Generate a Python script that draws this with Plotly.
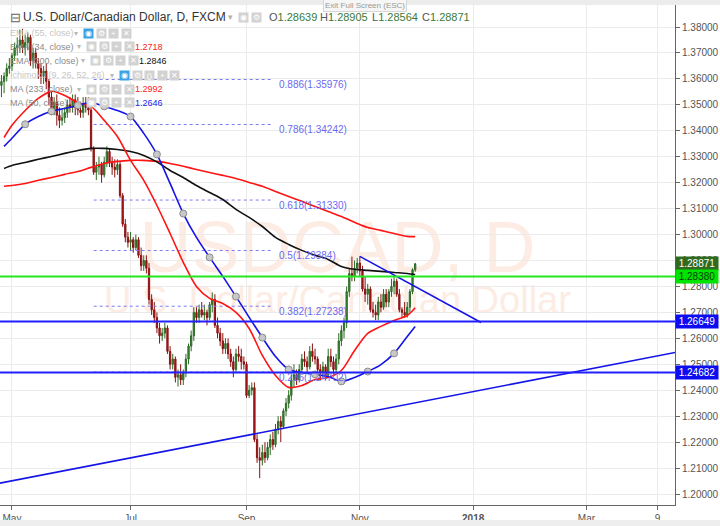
import pandas as pd
import plotly.graph_objects as go

FONT = "Liberation Sans, Arial, sans-serif"

# ---- daily USD/CAD bars (FXCM), 25 Apr - 30 Nov 2017, one row per week ----
bar_dates = pd.bdate_range("2017-04-25", "2017-11-30")

open_ = [
    1.3575, 1.3590, 1.3610, 1.3640,
    1.3650, 1.3690, 1.3720, 1.3730, 1.3750,
    1.3720, 1.3740, 1.3760, 1.3670, 1.3700,
    1.3660, 1.3640, 1.3610, 1.3630, 1.3590,
    1.3530, 1.3480, 1.3510, 1.3460, 1.3440,
    1.3450, 1.3470, 1.3500, 1.3490, 1.3520,
    1.3490, 1.3480, 1.3470, 1.3500, 1.3490,
    1.3480, 1.3330, 1.3240, 1.3260, 1.3270,
    1.3230, 1.3280, 1.3320, 1.3280, 1.3260,
    1.3250, 1.3270, 1.3150, 1.3040, 1.2990,
    1.2970, 1.2980, 1.2950, 1.2980, 1.2920,
    1.2880, 1.2900, 1.2870, 1.2750, 1.2710,
    1.2680, 1.2640, 1.2610, 1.2620, 1.2640,
    1.2550, 1.2500, 1.2520, 1.2450, 1.2460,
    1.2440, 1.2470, 1.2520, 1.2570, 1.2610,
    1.2700, 1.2680, 1.2710, 1.2690, 1.2700,
    1.2680, 1.2730, 1.2750, 1.2650, 1.2620,
    1.2590, 1.2560, 1.2580, 1.2540, 1.2510,
    1.2480, 1.2540, 1.2530, 1.2510, 1.2500,
    1.2380, 1.2400, 1.2410, 1.2210, 1.2140,
    1.2130, 1.2160, 1.2140, 1.2180, 1.2210,
    1.2190, 1.2250, 1.2280, 1.2260, 1.2320,
    1.2350, 1.2380, 1.2440, 1.2460, 1.2440,
    1.2480, 1.2520, 1.2510, 1.2490, 1.2550,
    1.2530, 1.2520, 1.2480, 1.2470, 1.2490,
    1.2460, 1.2530, 1.2510, 1.2480, 1.2520,
    1.2590, 1.2630, 1.2660, 1.2780, 1.2850,
    1.2840, 1.2870, 1.2890, 1.2860, 1.2790,
    1.2770, 1.2790, 1.2710, 1.2700, 1.2690,
    1.2740, 1.2720, 1.2770, 1.2740, 1.2780,
    1.2800, 1.2820, 1.2770, 1.2710, 1.2700,
    1.2690, 1.2720, 1.2780, 1.28639,
]
high = [
    1.3615, 1.3625, 1.3660, 1.3680,
    1.3700, 1.3740, 1.3760, 1.3790, 1.3793,
    1.3770, 1.3780, 1.3770, 1.3720, 1.3720,
    1.3680, 1.3660, 1.3650, 1.3660, 1.3600,
    1.3550, 1.3530, 1.3540, 1.3490, 1.3480,
    1.3490, 1.3520, 1.3530, 1.3540, 1.3540,
    1.3530, 1.3510, 1.3530, 1.3530, 1.3530,
    1.3510, 1.3340, 1.3280, 1.3300, 1.3280,
    1.3300, 1.3340, 1.3330, 1.3300, 1.3290,
    1.3290, 1.3280, 1.3160, 1.3060, 1.3010,
    1.3010, 1.2990, 1.3000, 1.2990, 1.2950,
    1.2920, 1.2920, 1.2890, 1.2770, 1.2740,
    1.2700, 1.2660, 1.2640, 1.2660, 1.2650,
    1.2570, 1.2540, 1.2530, 1.2480, 1.2500,
    1.2480, 1.2540, 1.2580, 1.2630, 1.2720,
    1.2720, 1.2730, 1.2740, 1.2730, 1.2710,
    1.2740, 1.2777, 1.2770, 1.2680, 1.2640,
    1.2620, 1.2600, 1.2600, 1.2560, 1.2530,
    1.2560, 1.2570, 1.2560, 1.2530, 1.2510,
    1.2420, 1.2430, 1.2430, 1.2230, 1.2180,
    1.2190, 1.2200, 1.2200, 1.2230, 1.2240,
    1.2270, 1.2300, 1.2300, 1.2330, 1.2370,
    1.2400, 1.2460, 1.2500, 1.2480, 1.2500,
    1.2540, 1.2550, 1.2530, 1.2570, 1.2580,
    1.2560, 1.2530, 1.2500, 1.2510, 1.2500,
    1.2560, 1.2560, 1.2530, 1.2540, 1.2620,
    1.2650, 1.2680, 1.2800, 1.2870, 1.2915,
    1.2900, 1.2910, 1.2916, 1.2880, 1.2840,
    1.2810, 1.2800, 1.2740, 1.2730, 1.2760,
    1.2770, 1.2790, 1.2790, 1.2790, 1.2830,
    1.2840, 1.2830, 1.2790, 1.2720, 1.2740,
    1.2740, 1.2790, 1.2870, 1.28905,
]
low = [
    1.3530, 1.3545, 1.3590, 1.3620,
    1.3630, 1.3670, 1.3690, 1.3700, 1.3700,
    1.3690, 1.3710, 1.3650, 1.3640, 1.3640,
    1.3600, 1.3580, 1.3580, 1.3560, 1.3500,
    1.3460, 1.3460, 1.3420, 1.3410, 1.3420,
    1.3430, 1.3450, 1.3470, 1.3470, 1.3460,
    1.3460, 1.3450, 1.3450, 1.3470, 1.3460,
    1.3320, 1.3230, 1.3210, 1.3230, 1.3200,
    1.3220, 1.3260, 1.3260, 1.3230, 1.3220,
    1.3230, 1.3140, 1.3030, 1.2970, 1.2950,
    1.2940, 1.2930, 1.2940, 1.2910, 1.2860,
    1.2860, 1.2850, 1.2730, 1.2690, 1.2660,
    1.2620, 1.2580, 1.2590, 1.2600, 1.2540,
    1.2480, 1.2480, 1.2430, 1.2414, 1.2420,
    1.2420, 1.2450, 1.2500, 1.2550, 1.2590,
    1.2660, 1.2660, 1.2680, 1.2670, 1.2650,
    1.2670, 1.2700, 1.2640, 1.2600, 1.2570,
    1.2540, 1.2540, 1.2520, 1.2490, 1.2450,
    1.2470, 1.2510, 1.2480, 1.2480, 1.2370,
    1.2370, 1.2380, 1.2200, 1.2120, 1.2061,
    1.2110, 1.2120, 1.2130, 1.2150, 1.2170,
    1.2180, 1.2230, 1.2200, 1.2250, 1.2300,
    1.2330, 1.2360, 1.2410, 1.2420, 1.2430,
    1.2460, 1.2490, 1.2470, 1.2480, 1.2510,
    1.2500, 1.2460, 1.2440, 1.2450, 1.2440,
    1.2450, 1.2490, 1.2460, 1.2470, 1.2500,
    1.2570, 1.2600, 1.2640, 1.2760, 1.2820,
    1.2820, 1.2850, 1.2840, 1.2780, 1.2740,
    1.2730, 1.2700, 1.2680, 1.2670, 1.2670,
    1.2700, 1.2710, 1.2720, 1.2720, 1.2760,
    1.2770, 1.2760, 1.2700, 1.2680, 1.2680,
    1.2680, 1.2700, 1.2770, 1.28564,
]
close = [
    1.3590, 1.3610, 1.3640, 1.3650,
    1.3690, 1.3720, 1.3730, 1.3750, 1.3720,
    1.3740, 1.3760, 1.3670, 1.3700, 1.3660,
    1.3640, 1.3610, 1.3630, 1.3590, 1.3530,
    1.3480, 1.3510, 1.3460, 1.3440, 1.3450,
    1.3470, 1.3500, 1.3490, 1.3520, 1.3490,
    1.3480, 1.3470, 1.3500, 1.3490, 1.3480,
    1.3330, 1.3240, 1.3260, 1.3270, 1.3230,
    1.3280, 1.3320, 1.3280, 1.3260, 1.3250,
    1.3270, 1.3150, 1.3040, 1.2990, 1.2970,
    1.2980, 1.2950, 1.2980, 1.2920, 1.2880,
    1.2900, 1.2870, 1.2750, 1.2710, 1.2680,
    1.2640, 1.2610, 1.2620, 1.2640, 1.2550,
    1.2500, 1.2520, 1.2450, 1.2460, 1.2440,
    1.2470, 1.2520, 1.2570, 1.2610, 1.2700,
    1.2680, 1.2710, 1.2690, 1.2700, 1.2680,
    1.2730, 1.2750, 1.2650, 1.2620, 1.2590,
    1.2560, 1.2580, 1.2540, 1.2510, 1.2480,
    1.2540, 1.2530, 1.2510, 1.2500, 1.2380,
    1.2400, 1.2410, 1.2210, 1.2140, 1.2130,
    1.2160, 1.2140, 1.2180, 1.2210, 1.2190,
    1.2250, 1.2280, 1.2260, 1.2320, 1.2350,
    1.2380, 1.2440, 1.2460, 1.2440, 1.2480,
    1.2520, 1.2510, 1.2490, 1.2550, 1.2530,
    1.2520, 1.2480, 1.2470, 1.2490, 1.2460,
    1.2530, 1.2510, 1.2480, 1.2520, 1.2590,
    1.2630, 1.2660, 1.2780, 1.2850, 1.2840,
    1.2870, 1.2890, 1.2860, 1.2790, 1.2770,
    1.2790, 1.2710, 1.2700, 1.2690, 1.2740,
    1.2720, 1.2770, 1.2740, 1.2780, 1.2800,
    1.2820, 1.2770, 1.2710, 1.2700, 1.2690,
    1.2720, 1.2780, 1.2864, 1.28871,
]

# ---- moving averages ----
ma_dates = [
    "2017-04-26", "2017-05-01", "2017-05-08", "2017-05-15", "2017-05-22", "2017-05-29",
    "2017-06-05", "2017-06-12", "2017-06-19", "2017-06-26", "2017-07-03", "2017-07-10",
    "2017-07-17", "2017-07-24", "2017-07-31", "2017-08-07", "2017-08-14", "2017-08-21",
    "2017-08-28", "2017-09-04", "2017-09-11", "2017-09-18", "2017-09-25", "2017-10-02",
    "2017-10-09", "2017-10-16", "2017-10-23", "2017-10-30", "2017-11-06", "2017-11-13",
    "2017-11-20", "2017-11-27", "2017-11-30",
]
ema34 = [1.3374, 1.3421, 1.3478, 1.3525, 1.3552, 1.3536, 1.3509, 1.3494, 1.3440, 1.3378,
         1.3286, 1.3209, 1.3112, 1.3004, 1.2893, 1.2800, 1.2754, 1.2734, 1.2700, 1.2638,
         1.2534, 1.2457, 1.2411, 1.2418, 1.2441, 1.2449, 1.2476, 1.2553, 1.2619, 1.2646,
         1.2669, 1.2688, 1.2718]
ema200 = [1.3255, 1.3266, 1.3278, 1.3290, 1.3301, 1.3313, 1.3324, 1.3332, 1.3332, 1.3328,
          1.3320, 1.3305, 1.3280, 1.3247, 1.3220, 1.3189, 1.3162, 1.3135, 1.3097, 1.3066,
          1.3031, 1.2989, 1.2962, 1.2939, 1.2920, 1.2904, 1.2877, 1.2866, 1.2862, 1.2858,
          1.2854, 1.2850, 1.2846]
ma233 = [1.3186, 1.3189, 1.3197, 1.3209, 1.3220, 1.3232, 1.3243, 1.3259, 1.3274, 1.3282,
         1.3286, 1.3286, 1.3282, 1.3274, 1.3263, 1.3251, 1.3239, 1.3228, 1.3216, 1.3201,
         1.3186, 1.3166, 1.3147, 1.3128, 1.3108, 1.3089, 1.3070, 1.3047, 1.3027, 1.3016,
         1.3004, 1.2993, 1.2992]
ma50 = [1.3340, 1.3371, 1.3425, 1.3455, 1.3475, 1.3486, 1.3498, 1.3509, 1.3494, 1.3478,
        1.3455, 1.3390, 1.3309, 1.3197, 1.3081, 1.2989, 1.2912, 1.2839, 1.2761, 1.2681,
        1.2603, 1.2530, 1.2480, 1.2468, 1.2461, 1.2453, 1.2434, 1.2449, 1.2472, 1.2499,
        1.2542, 1.2607, 1.2646]

# ---- drawings ----
fib_ratios = ["0.886", "0.786", "0.618", "0.5", "0.382", "0.236"]
fib_prices = [1.35976, 1.34242, 1.31330, 1.29384, 1.27238, 1.24702]
fib_span = ["2017-06-13", "2017-09-15"]

level_prices = [1.28380, 1.26649, 1.24682]
level_colors = ["#22e822", "#1f1fff", "#1f1fff"]
level_box_colors = ["#00e400", "#0c0cf0", "#0c0cf0"]
level_text_colors = ["#0d3d0d", "white", "white"]

trend_down_dates = ["2017-11-01", "2018-01-04"]
trend_down_prices = [1.2916, 1.2661]
trend_up_dates = ["2017-04-24", "2018-04-20"]
trend_up_prices = [1.2041, 1.2550]

last_close = 1.28871

month_ticks = ["2017-05-01", "2017-07-03", "2017-09-01", "2017-11-01",
               "2018-01-01", "2018-03-01", "2018-04-09"]
month_labels = ["May", "Jul", "Sep", "Nov", "<b>2018</b>", "Mar", "9"]
price_ticks = [1.20, 1.21, 1.22, 1.23, 1.24, 1.25, 1.26, 1.27, 1.28, 1.29,
               1.30, 1.31, 1.32, 1.33, 1.34, 1.35, 1.36, 1.37, 1.38]

# plot area in pixels: x 0..675, y 5..505
PW, TOP, PH = 675, 5, 500


def ann(x, y, text, size=9, color="#555", anchor="left", **kw):
    return dict(xref="paper", yref="paper", x=x / PW, y=1 - (y - TOP) / PH, text=text,
                showarrow=False, xanchor=anchor, yanchor="middle",
                font=dict(family=FONT, size=size, color=color), **kw)


def icon(x, y, glyph, bg="#d2d2d2"):
    return ann(x, y, glyph, size=8, color="white", bgcolor=bg, width=9, height=9,
               borderpad=0, align="center")


fig = go.Figure()

fig.add_trace(go.Candlestick(
    x=bar_dates, open=open_, high=high, low=low, close=close,
    increasing=dict(line=dict(color="#2b6a24", width=1), fillcolor="#3e8e34"),
    decreasing=dict(line=dict(color="#8a1010", width=1), fillcolor="#b51b1b"),
    whiskerwidth=0, hoverinfo="skip", showlegend=False,
))

for ratio, price in zip(fib_ratios, fib_prices):
    fig.add_trace(go.Scatter(x=fib_span, y=[price, price], mode="lines",
                             line=dict(color="#7c7cf2", width=1, dash="dot"),
                             hoverinfo="skip", showlegend=False))

for values, color in [(ma233, "#ff1414"), (ema200, "#111111"), (ema34, "#ff1414"), (ma50, "#1414e6")]:
    fig.add_trace(go.Scatter(x=ma_dates, y=values, mode="lines",
                             line=dict(color=color, width=1.6, shape="spline", smoothing=0.8),
                             hoverinfo="skip", showlegend=False))

fig.add_trace(go.Scatter(x=ma_dates[2:31:2], y=ma50[2:31:2], mode="markers",
                         marker=dict(size=7, color="#c8c8c8", line=dict(color="#8c8c8c", width=1)),
                         hoverinfo="skip", showlegend=False))

for dates, prices in [(trend_down_dates, trend_down_prices), (trend_up_dates, trend_up_prices)]:
    fig.add_trace(go.Scatter(x=dates, y=prices, mode="lines", line=dict(color="#1414e6", width=1.6),
                             hoverinfo="skip", showlegend=False))

shapes = []
# faint symbol watermark behind the bars
shapes.append(dict(type="rect", xref="paper", yref="paper", x0=0, x1=1,
                   y0=1 - (275 - TOP) / PH, y1=1 - (205 - TOP) / PH, line=dict(width=0),
                   layer="below",
                   label=dict(text="USDCAD, D", textposition="middle center",
                              font=dict(family=FONT, size=72, color="#fdece3"))))
shapes.append(dict(type="rect", xref="paper", yref="paper", x0=0, x1=1,
                   y0=1 - (312 - TOP) / PH, y1=1 - (280 - TOP) / PH, line=dict(width=0),
                   layer="below",
                   label=dict(text="U.S. Dollar/Canadian Dollar", textposition="middle center",
                              font=dict(family=FONT, size=38, color="#fdece3"))))
for price, color in zip(level_prices, level_colors):
    shapes.append(dict(type="line", xref="paper", yref="y", x0=0, x1=1, y0=price, y1=price,
                       line=dict(color=color, width=2)))
# grey window chrome at top and bottom
shapes.append(dict(type="rect", xref="paper", yref="paper", x0=0, x1=1.07, y0=1, y1=1.012,
                   fillcolor="#ececec", line=dict(width=0)))
shapes.append(dict(type="rect", xref="paper", yref="paper", x0=0, x1=1.07, y0=-0.042, y1=-0.03,
                   fillcolor="#eeeeee", line=dict(width=0)))

annotations = []
# price boxes on the axis
annotations.append(dict(xref="paper", yref="y", x=1, y=last_close, xanchor="left", yanchor="middle",
                        text=f"{last_close:.5f}", showarrow=False, bgcolor="#2f6a1f", width=40,
                        borderpad=1, font=dict(family=FONT, size=10, color="white")))
for price, box, txt in zip(level_prices, level_box_colors, level_text_colors):
    annotations.append(dict(xref="paper", yref="y", x=1, y=price, xanchor="left", yanchor="middle",
                            text=f"{price:.5f}", showarrow=False, bgcolor=box, width=40,
                            borderpad=1, font=dict(family=FONT, size=10, color=txt)))

# fibonacci labels
for ratio, price in zip(fib_ratios, fib_prices):
    annotations.append(dict(xref="x", yref="y", x=fib_span[1], y=price, xanchor="left",
                            yanchor="middle", xshift=4, yshift=-5, showarrow=False,
                            text=f"{ratio}({price:.5f})",
                            font=dict(family=FONT, size=10, color="#6a6af0")))

# header
annotations.append(ann(8, 17, "⊟", size=13, color="#666"))
annotations.append(ann(21, 17, "U.S. Dollar/Canadian Dollar, D, FXCM", size=12, color="#333"))
annotations.append(ann(226, 17, "▾", size=9, color="#b0b0b0"))
annotations.append(icon(238, 17, "◉"))
annotations.append(icon(251, 17, "⚙"))
for x, letter, value in [(267, "O", "1.28639"), (318, "H", "1.28905"),
                         (370, "L", "1.28564"), (420, "C", "1.28871")]:
    annotations.append(ann(x, 17, f"{letter}<span style='color:#3a7a3a'>{value}</span>",
                           size=11, color="#555"))
annotations.append(ann(365, 5, "Exit Full Screen (ESC)", size=8, color="#999", anchor="center",
                       bgcolor="#f6f6f6", bordercolor="#d6d6d6", borderwidth=1, borderpad=1))

# indicator legend rows
rows = [
    ("EMA (55, close)", "#c6c6c6", 33, 83, True, None, None),
    ("EMA (34, close)", "#8a8a8a", 47, 86, False, "1.2718", "#ff2020"),
    ("EMA (200, close)", "#8a8a8a", 61, 90, False, "1.2846", "#111111"),
    ("Ichimoku (9, 26, 52, 26)", "#c6c6c6", 75, 119, True, None, None),
    ("MA (233, close)", "#8a8a8a", 89, 86, False, "1.2992", "#ff2020"),
    ("MA (50, close)", "#8a8a8a", 103, 86, False, "1.2646", "#2222ee"),
]
for label, color, y, ix, hidden, value, vcolor in rows:
    annotations.append(ann(8, y, label, size=9, color=color))
    annotations.append(ann(ix - 11, y, "▾", size=8, color="#b8b8b8"))
    glyphs = ["◉", "⚙", "()", "+", "✕"] if label.startswith("Ichimoku") else ["◉", "⚙", "+", "✕"]
    for k, g in enumerate(glyphs):
        annotations.append(icon(ix + k * 12.5, y, g, "#3aa2e2" if (hidden and k == 0) else "#d2d2d2"))
    if value:
        annotations.append(ann(ix + 47, y, value, size=9, color=vcolor))

fig.update_layout(
    width=720, height=526,
    margin=dict(l=0, r=45, t=TOP, b=21),
    paper_bgcolor="white", plot_bgcolor="white",
    showlegend=False, hovermode=False,
    shapes=shapes, annotations=annotations,
    font=dict(family=FONT, size=10, color="#555"),
    xaxis=dict(
        type="date", range=["2017-04-24 10:48", "2018-04-17 14:24"],
        rangebreaks=[dict(bounds=["sat", "mon"])],
        rangeslider=dict(visible=False),
        tickvals=month_ticks, ticktext=month_labels,
        ticks="outside", ticklen=4, tickcolor="#666",
        showline=True, linecolor="#666", linewidth=1,
        showgrid=True, gridcolor="#ebebeb", gridwidth=1,
        tickfont=dict(family=FONT, size=10, color="#555"),
        zeroline=False, fixedrange=True,
    ),
    yaxis=dict(
        side="right", range=[1.19576, 1.38848],
        tickvals=price_ticks, tickformat=".5f",
        ticks="outside", ticklen=4, tickcolor="#666",
        showline=True, linecolor="#666", linewidth=1,
        showgrid=True, gridcolor="#ebebeb", gridwidth=1,
        tickfont=dict(family=FONT, size=10, color="#555"),
        zeroline=False, fixedrange=True,
    ),
)

# the page body has a default margin; drop it so the figure sits at the window corner
fig.write_html("out.html", config={"displayModeBar": False},
               post_script="document.body.style.margin='0';")
